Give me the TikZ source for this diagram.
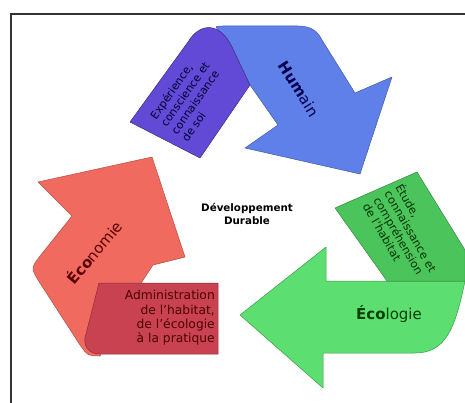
\documentclass[tikz,border=0pt]{standalone}
\usepackage{fontspec}
\setmainfont{DejaVu Sans}
\usepackage{tikz}

\definecolor{humblue}{RGB}{95,128,232}
\definecolor{humpurple}{RGB}{98,74,214}
\definecolor{ecored}{RGB}{240,106,96}
\definecolor{ecodark}{RGB}{201,66,82}
\definecolor{ecogreen}{RGB}{92,222,112}
\definecolor{ecotab}{RGB}{76,196,92}

\begin{document}
\begin{tikzpicture}
[x=1pt,y=-1pt]
\tikzset{shp/.style={line width=.5pt,line join=round}}
\tikzset{lbl/.style={font=\fontsize{15}{17}\selectfont,inner sep=0pt}}
\tikzset{tabtxt/.style={inner sep=0pt,font=\fontsize{11}{12.8}\selectfont}}
\useasboundingbox (0,0) rectangle (465,403);
\fill [white] (0,0) rectangle (465,403);
\draw [line width=1.4pt,black!80] (11,403) -- (11,14) -- (465,14);

% Humain
\filldraw [shp,fill=humblue,draw=humblue!70!black] (250,85) -- (218,30) .. controls (215,26) .. (224,26) -- (298,26) .. controls (312,26) and (318,32) .. (322,40) -- (355,93) -- (392,77) -- (360,174) -- (245,148) -- (278,125) -- cycle;
\filldraw [shp,fill=humpurple,draw=humpurple!60!black] (250,85) -- (232,47) .. controls (220,22) and (200,22) .. (188,42) -- (130,122) -- (200,158) -- cycle;
\node [lbl,rotate=-58,text=blue!30!black] (hum) at (299,89) {\textbf{Hum}ain};
\node [tabtxt,rotate=55,align=left,text=blue!20!black] (soi) at (190,98) {Expérience,\\conscience et\\connaissance\\de soi};

% Economie
\filldraw [shp,fill=ecored,draw=ecored!75!black] (152,157) -- (185,257) -- (153,265) -- (130,300) -- (100,356) .. controls (88,356) .. (80,345) -- (38,280) .. controls (31,268) .. (40,256) -- (72,216) -- (38,182) -- cycle;
\filldraw [shp,fill=ecodark,draw=ecodark!70!black] (99,283) -- (218,283) -- (218,354) -- (100,354) .. controls (88,354) and (82,345) .. (86,334) -- cycle;
\node [lbl,rotate=50,text=red!35!black] (eco) at (94,252) {\textbf{Éco}nomie};
\node [inner sep=0pt,align=right,anchor=east,text=red!30!black,font=\fontsize{12.3}{14.3}\selectfont] (admin) at (215,318) {Administration\\de l'habitat,\\de l'écologie\\à la pratique};

% Ecologie
\filldraw [shp,fill=ecogreen,draw=ecogreen!70!black] (240,315) -- (326,247) -- (326,281) -- (465,281) .. controls (455,330) and (445,353) .. (415,353) -- (323,353) -- (323,388) -- cycle;
\filldraw [shp,fill=ecotab,draw=ecotab!70!black] (335,208) -- (417,172) -- (465,250) -- (465,281) -- (387,281) -- cycle;
\node [lbl,text=green!25!black] (ecol) at (389,314) {\textbf{Éco}logie};
\node [tabtxt,rotate=-60,align=left,text=green!20!black,font=\fontsize{11.3}{12.6}\selectfont] (etude) at (406,234) {Étude,\\connaissance et\\compréhension\\de l'habitat};

% centre
\node [inner sep=0pt,align=center,font=\bfseries\fontsize{10.3}{12.5}\selectfont] (dd) at (247,214) {Développement\\Durable};
\end{tikzpicture}
\end{document}
